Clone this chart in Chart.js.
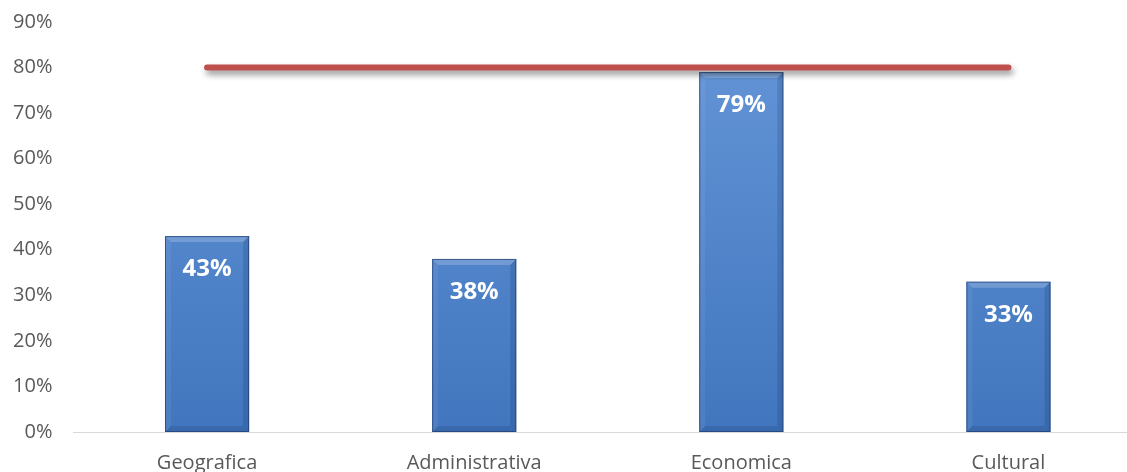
<!DOCTYPE html>
<html>
<head>
<meta charset="utf-8">
<script src="https://cdn.jsdelivr.net/npm/chart.js@4/dist/chart.umd.min.js"></script>
<style>
  html, body { margin: 0; padding: 0; background: #fff; overflow: hidden; }
  #wrap { width: 1142px; height: 472px; }
</style>
</head>
<body>
<div id="wrap"><canvas id="chart"></canvas></div>
<script>
const categories = ['Geografica', 'Administrativa', 'Economica', 'Cultural'];
const values = [43, 38, 79, 33];
const targetValues = [80, 80, 80, 80];
const yTicks = [0, 10, 20, 30, 40, 50, 60, 70, 80, 90];

const fontFamily = '"Open Sans", "Liberation Sans", sans-serif';

// soft shadow behind the target line
const lineShadow = {
  id: 'lineShadow',
  beforeDatasetDraw(chart, args) {
    if (args.meta.type !== 'line') return;
    const ctx = chart.ctx;
    ctx.save();
    ctx.shadowColor = 'rgba(0,0,0,0.45)';
    ctx.shadowBlur = 6;
    ctx.shadowOffsetX = 2;
    ctx.shadowOffsetY = 4;
  },
  afterDatasetDraw(chart, args) {
    if (args.meta.type !== 'line') return;
    chart.ctx.restore();
  }
};

// bevel edges on the bars + value labels inside the top
const barBevel = {
  id: 'barBevel',
  afterDatasetDraw(chart, args) {
    if (args.meta.type !== 'bar') return;
    const ctx = chart.ctx;
    args.meta.data.forEach((bar, i) => {
      const { x, y, base, width } = bar.getProps(['x', 'y', 'base', 'width'], true);
      const l = x - width / 2, r = x + width / 2, b = 6;
      ctx.save();
      // top
      ctx.fillStyle = 'rgba(255,255,255,0.2)';
      ctx.beginPath();
      ctx.moveTo(l, y); ctx.lineTo(r, y); ctx.lineTo(r - b, y + b); ctx.lineTo(l + b, y + b);
      ctx.closePath(); ctx.fill();
      // left
      ctx.fillStyle = 'rgba(255,255,255,0.06)';
      ctx.beginPath();
      ctx.moveTo(l, y); ctx.lineTo(l + b, y + b); ctx.lineTo(l + b, base - b); ctx.lineTo(l, base);
      ctx.closePath(); ctx.fill();
      // right
      ctx.fillStyle = 'rgba(0,20,60,0.14)';
      ctx.beginPath();
      ctx.moveTo(r, y); ctx.lineTo(r - b, y + b); ctx.lineTo(r - b, base - b); ctx.lineTo(r, base);
      ctx.closePath(); ctx.fill();
      // bottom
      ctx.fillStyle = 'rgba(0,20,60,0.12)';
      ctx.beginPath();
      ctx.moveTo(l, base); ctx.lineTo(l + b, base - b); ctx.lineTo(r - b, base - b); ctx.lineTo(r, base);
      ctx.closePath(); ctx.fill();
      // outline
      ctx.strokeStyle = 'rgba(30,60,110,0.7)';
      ctx.lineWidth = 1;
      ctx.strokeRect(l + 0.5, y + 0.5, width - 1, base - y - 1);
      // label
      ctx.fillStyle = '#ffffff';
      ctx.font = 'bold 24px ' + fontFamily;
      ctx.textAlign = 'center';
      ctx.textBaseline = 'middle';
      ctx.fillText(values[i] + '%', x, y + 33);
      ctx.restore();
    });
  }
};

const ctx = document.getElementById('chart').getContext('2d');

function barFill(context) {
  const area = context.chart.chartArea;
  if (!area) return '#4f81bd';
  const g = context.chart.ctx.createLinearGradient(0, area.top, 0, area.bottom);
  g.addColorStop(0, '#6596d8');
  g.addColorStop(1, '#4176be');
  return g;
}

new Chart(ctx, {
  data: {
    labels: categories,
    datasets: [
      {
        type: 'line',
        data: targetValues,
        borderColor: '#c0504d',
        borderWidth: 6,
        borderCapStyle: 'round',
        pointRadius: 0,
        fill: false,
        order: 0
      },
      {
        type: 'bar',
        data: values,
        backgroundColor: barFill,
        borderWidth: 0,
        barPercentage: 0.63,
        categoryPercentage: 0.5,
        order: 1
      }
    ]
  },
  plugins: [lineShadow, barBevel],
  options: {
    responsive: true,
    maintainAspectRatio: false,
    animation: false,
    layout: { padding: { top: 22, left: 0, right: 0, bottom: 0 } },
    plugins: {
      legend: { display: false },
      tooltip: { enabled: false }
    },
    scales: {
      x: {
        afterFit(scale) { scale.height = 40; },
        grid: { display: false, drawTicks: false },
        border: { color: '#d9d9d9', width: 1 },
        ticks: {
          color: '#595959',
          padding: 19,
          font: { size: 20, family: fontFamily }
        }
      },
      y: {
        min: 0,
        max: 90,
        afterFit(scale) {
          scale.width = 73.5;
          scale.paddingTop = 0;
          scale.paddingBottom = 0;
        },
        afterBuildTicks(scale) { scale.ticks = yTicks.map(v => ({ value: v })); },
        grid: { display: false, drawTicks: false },
        border: { display: false },
        ticks: {
          color: '#595959',
          padding: 21,
          font: { size: 20, family: fontFamily },
          callback: v => v + '%'
        }
      }
    }
  }
});
</script>
</body>
</html>
